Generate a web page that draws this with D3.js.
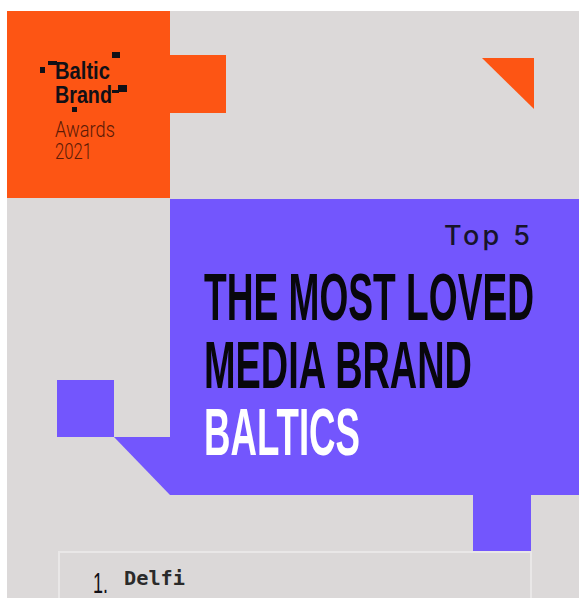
<!DOCTYPE html>
<html>
<head>
<meta charset="utf-8">
<script src="https://cdn.jsdelivr.net/npm/d3@7"></script>
<style>
  html, body { margin: 0; padding: 0; background: #ffffff; }
  svg { display: block; }
</style>
</head>
<body>
<div id="chart"></div>
<script>
// ---- content ----
const logoWords = ["Baltic", "Brand"];
const logoSub = ["Awards", "2021"];
const kicker = "Top 5";
const titleLines = ["THE MOST LOVED", "MEDIA BRAND", "BALTICS"];
const ranks = [1];
const brands = ["Delfi"];

// ---- layout ----
const W = 579, H = 598;
const C = { orange: "#fd5514", purple: "#7356fd", grey: "#dcd9d9", ink: "#111016" };

const svg = d3.select("#chart").append("svg").attr("width", W).attr("height", H);

// horizontally squeeze a text (inside its own group) to a target width
function fit(g, x, y, width) {
  const t = g.select("text").node();
  const natural = t.getComputedTextLength();
  const sx = width / natural;
  g.attr("transform", `translate(${x},${y}) scale(${sx},1)`);
}

// background panel
svg.append("rect").attr("x", 7).attr("y", 11).attr("width", W - 7).attr("height", H - 11).attr("fill", C.grey);

const line = d3.line();

// orange shapes
const orange = [
  [[7, 11], [170, 11], [170, 198], [7, 198]],
  [[170, 55], [226, 55], [226, 113], [170, 113]],
  [[482, 58], [534, 58], [534, 109]]
];
svg.selectAll("path.or").data(orange).join("path").attr("class", "or")
  .attr("d", d => line(d) + "Z").attr("fill", C.orange);

// purple shapes
const purple = [
  [[170, 199], [579, 199], [579, 495], [170, 495]],
  [[57, 380], [114, 380], [114, 437], [57, 437]],
  [[114, 437], [171, 437], [171, 495], [170, 495]],
  [[473, 494], [531, 494], [531, 552], [473, 552]]
];
svg.selectAll("path.pu").data(purple).join("path").attr("class", "pu")
  .attr("d", d => line(d) + "Z").attr("fill", C.purple);

// logo pixel decorations
const pixels = [[40, 67, 5, 6], [48, 61, 9, 4], [112, 52, 8, 6], [112, 90, 7, 3], [118, 85, 9, 7], [72, 107, 5, 5]];
svg.selectAll("rect.px").data(pixels).join("rect").attr("class", "px")
  .attr("x", d => d[0]).attr("y", d => d[1]).attr("width", d => d[2]).attr("height", d => d[3])
  .attr("fill", C.ink);

// logo words
const logoY = d3.scalePoint().domain(logoWords).range([79, 103]);
const logoW = [55, 57];
logoWords.forEach((w, i) => {
  const g = svg.append("g");
  g.append("text").attr("x", 0).attr("y", 0)
    .attr("font-family", "'Liberation Sans Narrow', 'Liberation Sans', sans-serif")
    .attr("font-weight", 700).attr("font-size", 24).attr("fill", C.ink).text(w);
  fit(g, 55, logoY(w), logoW[i]);
});

const subY = d3.scalePoint().domain(logoSub).range([137, 159]);
const subW = [60, 37];
logoSub.forEach((w, i) => {
  const g = svg.append("g");
  g.append("text").attr("x", 0).attr("y", 0)
    .attr("font-family", "Roboto, 'DejaVu Sans', sans-serif")
    .attr("font-weight", 300).attr("font-size", 22).attr("fill", "#5a1a06").text(w);
  fit(g, 55, subY(w), subW[i]);
});

// kicker
svg.append("text").attr("x", 444).attr("y", 245)
  .attr("textLength", 86).attr("lengthAdjust", "spacing")
  .attr("font-family", "Inter, 'Open Sans', sans-serif").attr("font-weight", 500)
  .attr("font-size", 27).attr("fill", "#17142b").text(kicker);

// title
const titleY = d3.scalePoint().domain(titleLines).range([320, 455]);
const titleW = [330, 268, 156];
titleLines.forEach((l, i) => {
  const g = svg.append("g");
  g.append("text").attr("x", 0).attr("y", 0)
    .attr("font-family", "'Liberation Sans Narrow', 'Liberation Sans', sans-serif")
    .attr("font-weight", 700).attr("font-size", 67)
    .attr("fill", i === titleLines.length - 1 ? "#ffffff" : "#08070c")
    .text(l);
  fit(g, 204, titleY(l), titleW[i]);
});

// ranking list
const rowY = d3.scaleBand().domain(ranks).range([552, 612]);
const rows = svg.selectAll("g.row").data(ranks).join("g").attr("class", "row");
rows.append("rect").attr("x", 59).attr("y", d => rowY(d)).attr("width", 472).attr("height", rowY.bandwidth() + 20)
  .attr("fill", "#dbd8d8").attr("stroke", "#e9e7e7").attr("stroke-width", 2);
rows.append("text").attr("x", 93).attr("y", d => rowY(d) + 41)
  .attr("textLength", 15).attr("lengthAdjust", "spacingAndGlyphs")
  .attr("font-family", "'Liberation Sans Narrow', 'Liberation Sans', sans-serif")
  .attr("font-size", 29).attr("fill", C.ink).text(d => d + ".");
rows.append("text").attr("x", 124).attr("y", d => rowY(d) + 33)
  .attr("textLength", 61).attr("lengthAdjust", "spacingAndGlyphs")
  .attr("font-family", "'DejaVu Sans Mono', monospace").attr("font-weight", 700)
  .attr("font-size", 19).attr("fill", "#2a2a2a").text((d, i) => brands[i]);
</script>
</body>
</html>
